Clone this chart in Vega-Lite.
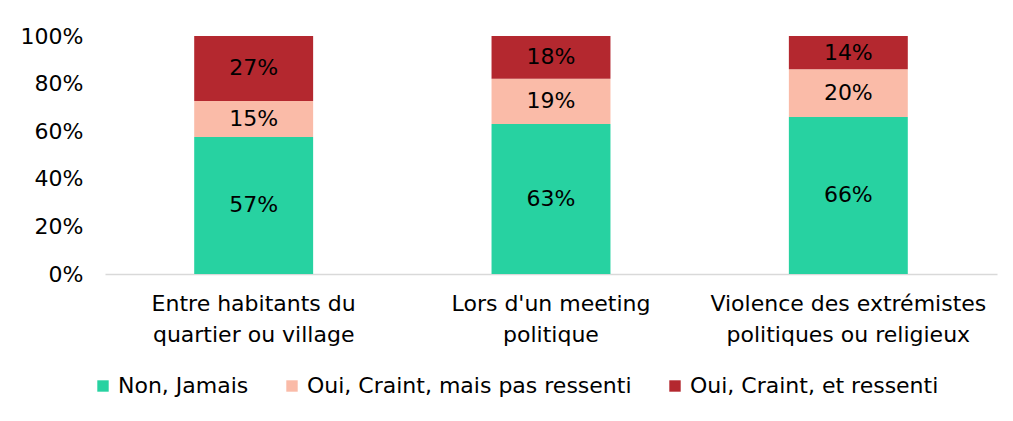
{
  "$schema": "https://vega.github.io/schema/vega-lite/v6.json",
  "width": 892,
  "height": 238,
  "autosize": {"type": "none"},
  "padding": {"left": 105, "top": 36, "right": 16, "bottom": 147},
  "background": "white",
  "config": {
    "view": {"stroke": null},
    "font": "DejaVu Sans"
  },
  "data": {
    "values": [
      {"cat": "Entre habitants du|quartier ou village", "resp": "Non, Jamais", "k": 1, "v": 0.57},
      {"cat": "Entre habitants du|quartier ou village", "resp": "Oui, Craint, mais pas ressenti", "k": 2, "v": 0.15},
      {"cat": "Entre habitants du|quartier ou village", "resp": "Oui, Craint, et ressenti", "k": 3, "v": 0.27},
      {"cat": "Lors d'un meeting|politique", "resp": "Non, Jamais", "k": 1, "v": 0.63},
      {"cat": "Lors d'un meeting|politique", "resp": "Oui, Craint, mais pas ressenti", "k": 2, "v": 0.19},
      {"cat": "Lors d'un meeting|politique", "resp": "Oui, Craint, et ressenti", "k": 3, "v": 0.18},
      {"cat": "Violence des extrémistes|politiques ou religieux", "resp": "Non, Jamais", "k": 1, "v": 0.66},
      {"cat": "Violence des extrémistes|politiques ou religieux", "resp": "Oui, Craint, mais pas ressenti", "k": 2, "v": 0.20},
      {"cat": "Violence des extrémistes|politiques ou religieux", "resp": "Oui, Craint, et ressenti", "k": 3, "v": 0.14}
    ]
  },
  "encoding": {
    "x": {
      "field": "cat", "type": "nominal", "sort": null, "title": null,
      "scale": {"paddingInner": 0.6, "paddingOuter": 0.3},
      "axis": {
        "labelExpr": "split(datum.label, '|')",
        "labelAngle": 0, "labelFontSize": 22, "labelLineHeight": 31,
        "labelColor": "#000", "labelPadding": 19, "labelBaseline": "top", "labelLimit": 0,
        "ticks": false, "domainColor": "#d9d9d9", "domainWidth": 1.5, "grid": false
      }
    },
    "y": {
      "field": "v", "type": "quantitative", "stack": "normalize", "title": null,
      "scale": {"domain": [0, 1]},
      "axis": {
        "format": ".0%", "values": [0, 0.2, 0.4, 0.6, 0.8, 1],
        "labelFontSize": 22, "labelColor": "#000", "labelPadding": 22,
        "ticks": false, "domain": false, "grid": false
      }
    },
    "order": {"field": "k", "type": "quantitative", "sort": "ascending"}
  },
  "layer": [
    {
      "mark": {"type": "bar"},
      "encoding": {
        "color": {
          "field": "resp", "type": "nominal", "title": null,
          "scale": {
            "domain": ["Non, Jamais", "Oui, Craint, mais pas ressenti", "Oui, Craint, et ressenti"],
            "range": ["#27D2A1", "#FABBA8", "#B4282F"]
          },
          "legend": {
            "orient": "none", "direction": "horizontal",
            "legendX": -13, "legendY": 339,
            "symbolType": "square", "symbolSize": 130, "symbolStrokeWidth": 0,
            "labelFontSize": 22, "labelColor": "#000", "labelOffset": 4, "labelLimit": 0,
            "columnPadding": 32
          }
        }
      }
    },
    {
      "mark": {"type": "text", "fontSize": 22, "color": "#000", "baseline": "middle"},
      "encoding": {
        "y": {"field": "v", "type": "quantitative", "stack": "normalize", "bandPosition": 0.5},
        "text": {"field": "v", "type": "quantitative", "format": ".0%"}
      }
    }
  ]
}
